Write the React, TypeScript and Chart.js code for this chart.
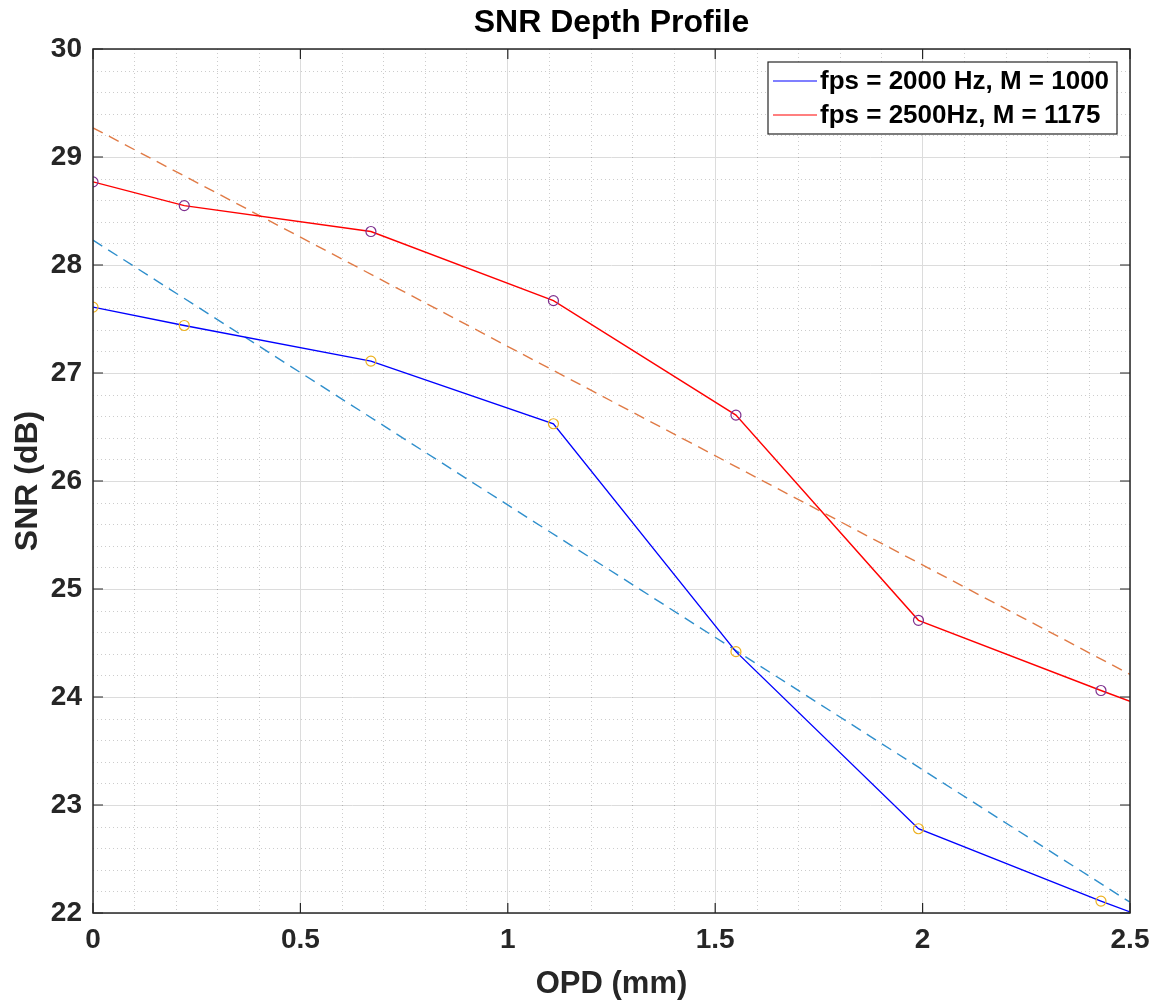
import React, { useEffect, useRef } from "react";
import { Chart, registerables } from "chart.js";

Chart.register(...registerables);

const TITLE = "SNR Depth Profile";
const X_LABEL = "OPD (mm)";
const Y_LABEL = "SNR (dB)";

const opd = [0, 0.22, 0.67, 1.11, 1.55, 1.99, 2.43];
const snr2000 = [27.61, 27.44, 27.11, 26.53, 24.42, 22.78, 22.11];
const snr2500 = [28.77, 28.55, 28.31, 27.67, 26.61, 24.71, 24.06];
// the plotted curves run on to the right edge of the axes
const lineEndOpd = 2.5;
const lineEnd2000 = 22.01;
const lineEnd2500 = 23.96;

// linear fits (dashed)
const fitOpd = [0, 2.5];
const fit2000 = [28.23, 22.1];
const fit2500 = [29.27, 24.21];

const legendLabels = ["fps = 2000 Hz, M = 1000", "fps = 2500Hz, M = 1175"];
const legendColors = ["#0000FF", "#FF0000"];

const xMin = 0, xMax = 2.5, xStep = 0.5, xMinorStep = 0.1;
const yMin = 22, yMax = 30, yStep = 1, yMinorStep = 0.2;

const FONT = "'Liberation Sans', Arial, Helvetica, sans-serif";
const AXIS_COLOR = "#262626";

const pts = (xs: number[], ys: number[]) => xs.map((x, i) => ({ x, y: ys[i] }));

const decor = {
  id: "decor",
  beforeDatasetsDraw(chart: any) {
    const { ctx, chartArea: a, scales } = chart;
    const x = scales.x, y = scales.y;
    ctx.save();
    ctx.strokeStyle = "rgba(0,0,0,0.2)";
    ctx.lineWidth = 1;
    ctx.setLineDash([1, 3]);
    const nx = Math.round((xMax - xMin) / xMinorStep);
    for (let i = 1; i < nx; i++) {
      const v = xMin + i * xMinorStep;
      if (Math.abs(v / xStep - Math.round(v / xStep)) < 1e-6) continue;
      const px = Math.round(x.getPixelForValue(v)) + 0.5;
      ctx.beginPath();
      ctx.moveTo(px, a.top);
      ctx.lineTo(px, a.bottom);
      ctx.stroke();
    }
    const ny = Math.round((yMax - yMin) / yMinorStep);
    for (let i = 1; i < ny; i++) {
      const v = yMin + i * yMinorStep;
      if (Math.abs(v / yStep - Math.round(v / yStep)) < 1e-6) continue;
      const py = Math.round(y.getPixelForValue(v)) + 0.5;
      ctx.beginPath();
      ctx.moveTo(a.left, py);
      ctx.lineTo(a.right, py);
      ctx.stroke();
    }
    ctx.restore();
  },
  afterDatasetsDraw(chart: any) {
    const { ctx, chartArea: a, scales } = chart;
    const x = scales.x, y = scales.y;
    ctx.save();
    // box
    ctx.strokeStyle = AXIS_COLOR;
    ctx.lineWidth = 1.5;
    ctx.setLineDash([]);
    ctx.strokeRect(a.left, a.top, a.right - a.left, a.bottom - a.top);
    // inward tick marks
    const tl = 10;
    ctx.lineWidth = 1.2;
    for (let v = xMin; v <= xMax + 1e-9; v += xStep) {
      const px = x.getPixelForValue(v);
      ctx.beginPath();
      ctx.moveTo(px, a.bottom);
      ctx.lineTo(px, a.bottom - tl);
      ctx.moveTo(px, a.top);
      ctx.lineTo(px, a.top + tl);
      ctx.stroke();
    }
    for (let v = yMin; v <= yMax + 1e-9; v += yStep) {
      const py = y.getPixelForValue(v);
      ctx.beginPath();
      ctx.moveTo(a.left, py);
      ctx.lineTo(a.left + tl, py);
      ctx.moveTo(a.right, py);
      ctx.lineTo(a.right - tl, py);
      ctx.stroke();
    }
    // title
    ctx.fillStyle = "#000";
    ctx.font = `bold 32px ${FONT}`;
    ctx.textAlign = "center";
    ctx.textBaseline = "middle";
    ctx.fillText(TITLE, (a.left + a.right) / 2, 23);
    // legend
    const lx = 768, ly = 62, lw = 349, lh = 72;
    ctx.fillStyle = "#fff";
    ctx.fillRect(lx, ly, lw, lh);
    ctx.strokeStyle = AXIS_COLOR;
    ctx.lineWidth = 1.2;
    ctx.strokeRect(lx, ly, lw, lh);
    ctx.font = `bold 26px ${FONT}`;
    ctx.textAlign = "left";
    legendLabels.forEach((lab, i) => {
      const yy = ly + 19 + i * 34;
      ctx.strokeStyle = legendColors[i];
      ctx.lineWidth = 1.2;
      ctx.beginPath();
      ctx.moveTo(lx + 5, yy);
      ctx.lineTo(lx + 49, yy);
      ctx.stroke();
      ctx.fillStyle = "#000";
      ctx.fillText(lab, lx + 52, yy + 1);
    });
    ctx.restore();
  },
};

export default function App() {
  const ref = useRef<HTMLCanvasElement>(null);
  useEffect(() => {
    if (!ref.current) return;
    const chart = new Chart(ref.current, {
      type: "line",
      data: {
        datasets: [
          {
            label: "m2000",
            data: pts(opd, snr2000),
            showLine: false,
            pointRadius: 5,
            pointStyle: "circle",
            pointBorderColor: "#EDB120",
            pointBackgroundColor: "rgba(0,0,0,0)",
            pointBorderWidth: 1.2,
            order: 0,
          },
          {
            label: "m2500",
            data: pts(opd, snr2500),
            showLine: false,
            pointRadius: 5,
            pointStyle: "circle",
            pointBorderColor: "#7E2F8E",
            pointBackgroundColor: "rgba(0,0,0,0)",
            pointBorderWidth: 1.2,
            order: 0,
          },
          {
            label: legendLabels[0],
            data: [...pts(opd, snr2000), { x: lineEndOpd, y: lineEnd2000 }],
            borderColor: "#0000FF",
            borderWidth: 1.4,
            pointRadius: 0,
            tension: 0,
            order: 1,
          },
          {
            label: legendLabels[1],
            data: [...pts(opd, snr2500), { x: lineEndOpd, y: lineEnd2500 }],
            borderColor: "#FF0000",
            borderWidth: 1.4,
            pointRadius: 0,
            tension: 0,
            order: 1,
          },
          {
            label: "fit2000",
            data: pts(fitOpd, fit2000),
            borderColor: "#2F8FCC",
            borderWidth: 1.4,
            borderDash: [11, 7],
            pointRadius: 0,
            order: 2,
          },
          {
            label: "fit2500",
            data: pts(fitOpd, fit2500),
            borderColor: "#E07A45",
            borderWidth: 1.4,
            borderDash: [11, 7],
            pointRadius: 0,
            order: 2,
          },
        ],
      },
      options: {
        animation: false,
        responsive: false,
        events: [],
        layout: { padding: { top: 49, right: 35, left: 0, bottom: 0 } },
        plugins: { legend: { display: false }, title: { display: false }, tooltip: { enabled: false } },
        scales: {
          x: {
            type: "linear",
            min: xMin,
            max: xMax,
            afterFit: (s: any) => { s.height = 94; },
            ticks: {
              stepSize: xStep,
              color: AXIS_COLOR,
              font: { family: FONT, size: 28, weight: "bold" },
              padding: 10,
              maxRotation: 0,
              callback: (v: any) => String(Number(v)),
            },
            grid: { color: "#dcdcdc", lineWidth: 1, drawTicks: false },
            border: { display: false },
            title: {
              display: true,
              text: X_LABEL,
              color: AXIS_COLOR,
              font: { family: FONT, size: 31, weight: "bold" },
              padding: { top: 0, bottom: 4 },
            },
          },
          y: {
            type: "linear",
            min: yMin,
            max: yMax,
            afterFit: (s: any) => { s.width = 93; },
            ticks: {
              stepSize: yStep,
              color: AXIS_COLOR,
              font: { family: FONT, size: 28, weight: "bold" },
              padding: 11,
            },
            grid: { color: "#dcdcdc", lineWidth: 1, drawTicks: false },
            border: { display: false },
            title: {
              display: true,
              text: Y_LABEL,
              color: AXIS_COLOR,
              font: { family: FONT, size: 32, weight: "bold" },
              padding: { top: 9, bottom: 0 },
            },
          },
        },
      },
      plugins: [decor],
    } as any);
    return () => chart.destroy();
  }, []);
  return (
    <div style={{ position: "absolute", left: 0, top: 0, width: 1165, height: 1007, background: "#fff" }}>
      <canvas ref={ref} width={1165} height={1007} style={{ display: "block" }} />
    </div>
  );
}
